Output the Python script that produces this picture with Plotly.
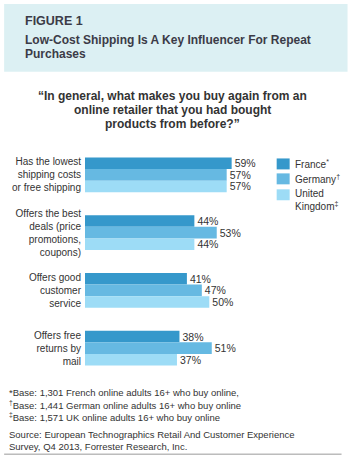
import plotly.graph_objects as go

categories = [
    "Has the lowest<br>shipping costs<br>or free shipping",
    "Offers the best<br>deals (price<br>promotions,<br>coupons)",
    "Offers good<br>customer<br>service",
    "Offers free<br>returns by<br>mail",
]
series_names = ["France", "Germany", "United Kingdom"]
legend_labels = ["France<sup>*</sup>", "Germany<sup>†</sup>", "United<br>Kingdom<sup>‡</sup>"]
france = [59, 44, 41, 38]
germany = [57, 53, 47, 51]
uk = [57, 44, 50, 37]
colors = ["#3598cb", "#66b9e2", "#9ddcf6"]

FONT = "Liberation Sans, Arial, sans-serif"
TXT = "#333333"

fig = go.Figure()
for name, vals, col in zip(series_names, [france, germany, uk], colors):
    fig.add_trace(go.Bar(
        y=categories, x=vals, name=name, orientation="h",
        marker=dict(color=col, line=dict(width=0)),
        text=[f"{v}%" for v in vals], textposition="outside",
        textfont=dict(family=FONT, size=10.5, color=TXT),
        constraintext="none", cliponaxis=False, showlegend=False,
    ))

W, H = 353, 460
left, top, bottom_px = 85, 145.5, 377.5
xmax = 70
right_px = left + xmax * 2.49

fig.update_layout(
    width=W, height=H, autosize=False,
    margin=dict(l=left, r=W - right_px, t=top, b=H - bottom_px, pad=0),
    paper_bgcolor="white", plot_bgcolor="white",
    barmode="group", bargap=0.397, bargroupgap=0,
    font=dict(family=FONT, color=TXT),
    xaxis=dict(range=[0, xmax], visible=False, fixedrange=True),
    yaxis=dict(autorange=False, range=[3.5, -0.5], showgrid=False, zeroline=False,
               showline=False, ticks="", tickfont=dict(family=FONT, size=10, color=TXT),
               ticklabelstandoff=3, fixedrange=True),
)

shapes = []
annotations = []
# header box
shapes.append(dict(type="rect", xref="paper", yref="paper",
                   x0=(4 - left) / (right_px - left), x1=(348 - left) / (right_px - left),
                   y0=1 - (71 - top) / (bottom_px - top) , y1=1 - (3 - top) / (bottom_px - top),
                   fillcolor="#dcf0f3", line=dict(width=0), layer="below"))

def px_x(x):
    return (x - left) / (right_px - left)

def px_y(y):
    return (bottom_px - y) / (bottom_px - top)

def add_text(txt, x, y, size, bold=False, xanchor="left", color=TXT):
    annotations.append(dict(text=f"<b>{txt}</b>" if bold else txt, xref="paper", yref="paper",
                            x=px_x(x), y=px_y(y), xanchor=xanchor, yanchor="middle",
                            showarrow=False, font=dict(family=FONT, size=size, color=color)))

add_text("FIGURE 1", 23, 20, 12.5, bold=True, color="#3b3b47")
add_text("Low-Cost Shipping Is A Key Influencer For Repeat", 23, 39, 12, bold=True, color="#3b3b47")
add_text("Purchases", 23, 53, 12, bold=True, color="#3b3b47")

add_text("“In general, what makes you buy again from an", 172.5, 95, 12, bold=True, xanchor="center")
add_text("online retailer that you had bought", 172.5, 109, 12, bold=True, xanchor="center")
add_text("products from before?”", 172.5, 123, 12, bold=True, xanchor="center")

# legend
leg_y = [(158, 169), (173, 184), (189, 200)]
for (y0, y1), col, lab in zip(leg_y, colors, legend_labels):
    shapes.append(dict(type="rect", xref="paper", yref="paper",
                       x0=px_x(277), x1=px_x(290), y0=px_y(y1), y1=px_y(y0),
                       fillcolor=col, line=dict(width=0)))
annotations.append(dict(text=legend_labels[0], xref="paper", yref="paper", x=px_x(293), y=px_y(163.5),
                        xanchor="left", yanchor="middle", showarrow=False, align="left",
                        font=dict(family=FONT, size=10, color=TXT)))
annotations.append(dict(text=legend_labels[1], xref="paper", yref="paper", x=px_x(293), y=px_y(178.5),
                        xanchor="left", yanchor="middle", showarrow=False, align="left",
                        font=dict(family=FONT, size=10, color=TXT)))
annotations.append(dict(text=legend_labels[2], xref="paper", yref="paper", x=px_x(293), y=px_y(200),
                        xanchor="left", yanchor="middle", showarrow=False, align="left",
                        font=dict(family=FONT, size=10, color=TXT)))

add_text("*Base: 1,301 French online adults 16+ who buy online,", 7, 393, 9.5)
add_text("<sup>†</sup>Base: 1,441 German online adults 16+ who buy online", 7, 405.5, 9.5)
add_text("<sup>‡</sup>Base: 1,571 UK online adults 16+ who buy online", 7, 418, 9.5)
add_text("Source: European Technographics Retail And Customer Experience", 7, 435, 9.5)
add_text("Survey, Q4 2013, Forrester Research, Inc.", 7, 447.5, 9.5)

shapes.append(dict(type="line", xref="paper", yref="paper", x0=px_x(4), x1=px_x(342),
                   y0=px_y(455), y1=px_y(455), line=dict(color="#9a9a9a", width=1)))

fig.update_layout(shapes=shapes, annotations=annotations)
fig.write_html("out.html", config={"displayModeBar": False})
